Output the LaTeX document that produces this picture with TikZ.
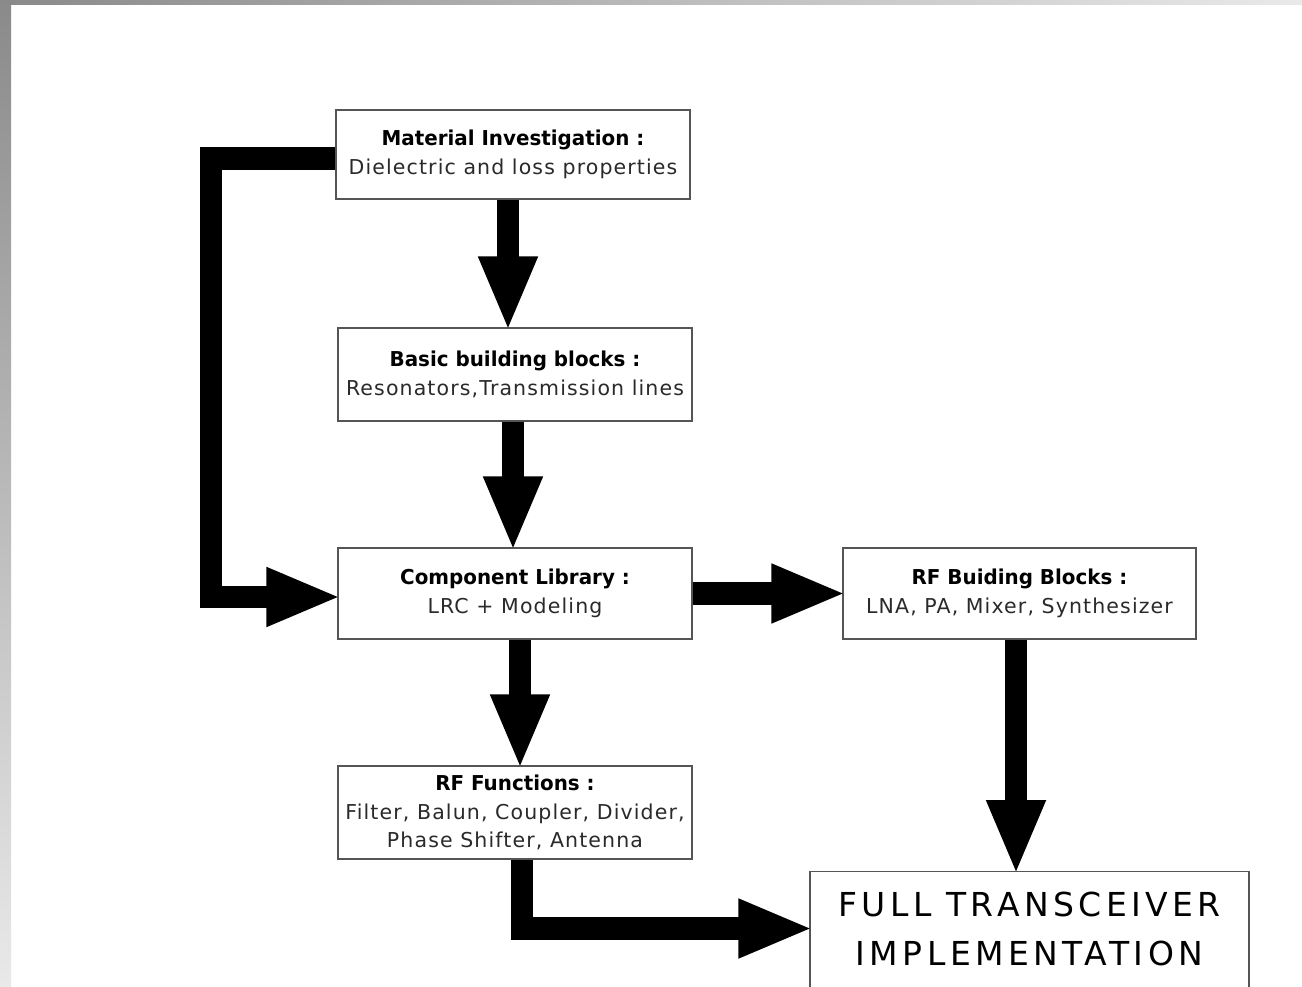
\documentclass[tikz,border=0pt]{standalone}
\usepackage{fontspec}
\setmainfont[LetterSpace=5.5]{DejaVu Sans}
\newfontfamily\headfont[FakeStretch=0.97]{DejaVu Sans Bold}
\newfontfamily\bigfont[LetterSpace=13.5]{DejaVu Sans}
\usetikzlibrary{arrows.meta,calc}

\definecolor{edgegray}{HTML}{8A8A8A}
\definecolor{fadegray}{HTML}{E9E9E9}
\definecolor{boxline}{HTML}{555555}
\definecolor{bodytext}{HTML}{2A2A2A}

\tikzset{
  stage/.style={draw=boxline, line width=1.3pt, fill=white, minimum width=354pt,
    align=center, inner sep=0pt, font=\fontsize{20.5}{29.5}\selectfont\color{bodytext}},
  bigarrow/.style={line width=22.5pt, line join=miter, shorten >=-4pt,
    -{Triangle[length=75pt,width=54pt]}},
}
\newcommand{\hd}[1]{{\headfont\color{black}#1}}

\begin{document}
\begin{tikzpicture}[x=1pt,y=-1pt]
  \useasboundingbox (0,0) rectangle (1302,987);
  \fill[white] (0,0) rectangle (1302,987);
  % grey frame strips along the top and left edges
  \shade[left color=edgegray, right color=fadegray] (0,0) rectangle (1302,5);
  \shade[top color=edgegray, bottom color=fadegray] (0,0) rectangle (11,987);

  % stages
  \node[stage, minimum height=89pt] (mat) at (513,154.5)
    {\hd{Material Investigation :}\\Dielectric and loss properties};
  \node[stage, minimum height=93pt] (bb) at (515,374.5)
    {\hd{Basic building blocks :}\\Resonators,Transmission lines};
  \node[stage, minimum height=91pt] (comp) at (515,593.5)
    {\hd{Component Library :}\\LRC + Modeling};
  \node[stage, minimum width=353pt, minimum height=91pt] (rfb) at (1019.5,593.5)
    {\hd{RF Buiding Blocks :}\\LNA, PA, Mixer, Synthesizer};
  \node[stage, minimum height=93pt, font=\fontsize{20.5}{28.5}\selectfont\color{bodytext}] (rff) at (515,812.5)
    {\hd{RF Functions :}\\Filter, Balun, Coupler, Divider,\\Phase Shifter, Antenna};
  \node[draw=boxline, line width=1.3pt, fill=white, minimum width=439pt,
    minimum height=140pt, anchor=north, inner sep=0pt] (full) at (1029.5,871) {};
  \node[align=center, inner sep=0pt, font=\bigfont\fontsize{33}{49}\selectfont] (fulltext)
    at (1029.5,928.5) {FULL TRANSCEIVER\\IMPLEMENTATION};

  % arrow start points along the box edges
  \coordinate (a1) at ([xshift=-5pt]mat.south);
  \coordinate (a2) at ([xshift=-2pt]bb.south);
  \coordinate (a3) at ([xshift=5pt]comp.south);
  \coordinate (a5) at ([xshift=-3.5pt]rfb.south);
  \coordinate (a6) at ([xshift=7pt]rff.south);
  \coordinate (a7) at ([yshift=-4pt]mat.west);
  \coordinate (b7) at ([yshift=-3.5pt]comp.west);
  \coordinate (lbend) at (211,0);

  % flow arrows
  \draw[bigarrow] (a1) -- (a1 |- bb.north);
  \draw[bigarrow] (a2) -- (a2 |- comp.north);
  \draw[bigarrow] (a3) -- (a3 |- rff.north);
  \draw[bigarrow] (comp.east) -- (rfb.west);
  \draw[bigarrow] (a5) -- (a5 |- full.north);
  \draw[bigarrow] (a6) |- (fulltext -| full.west);
  \draw[bigarrow] (a7) -| (b7 -| lbend) -- (b7);
\end{tikzpicture}
\end{document}
